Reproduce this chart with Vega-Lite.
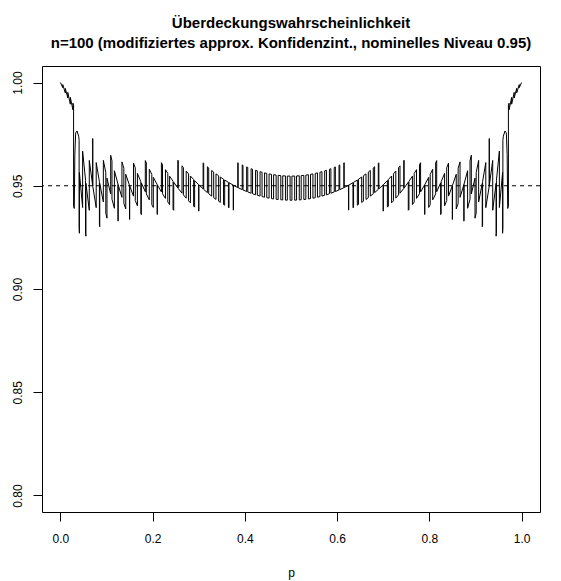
{
"$schema": "https://vega.github.io/schema/vega-lite/v6.json",
"width": 498, "height": 446,
"autosize": {"type": "none"},
"padding": {"left": 42, "top": 66, "right": 21, "bottom": 69},
"background": "white",
"config": {"view": {"stroke": "black", "strokeWidth": 1}, "font": "Liberation Sans"},
"title": {"text": ["Überdeckungswahrscheinlichkeit", "n=100 (modifiziertes approx. Konfidenzint., nominelles Niveau 0.95)"], "fontSize": 15, "fontWeight": "bold", "font": "Liberation Sans", "anchor": "middle", "frame": "group", "baseline": "alphabetic", "lineHeight": 20, "offset": 3, "color": "black"},
"data": {"values": [
{"p":0,"c":1.0},{"p":0.005,"c":0.9975},{"p":0.005,"c":0.999},{"p":0.0105,"c":0.995},{"p":0.0105,"c":0.9972},{"p":0.016,"c":0.9925},{"p":0.016,"c":0.9952},{"p":0.0215,"c":0.9895},{"p":0.0215,"c":0.9928},{"p":0.027,"c":0.9868},{"p":0.027,"c":0.99},{"p":0.0285,"c":0.989},{"p":0.0285,"c":0.94},{"p":0.03,"c":0.939},{"p":0.0312,"c":0.965},{"p":0.033,"c":0.9755},{"p":0.036,"c":0.9765},{"p":0.0395,"c":0.974},{"p":0.0405,"c":0.972},{"p":0.0405,"c":0.93},{"p":0.0411,"c":0.927},{"p":0.0411,"c":0.9564},
{"p":0.048072,"c":0.93947},{"p":0.048072,"c":0.96679},
{"p":0.054488,"c":0.95264},{"p":0.054488,"c":0.92689},
{"p":0.055229,"c":0.92558},{"p":0.055229,"c":0.95117},
{"p":0.062541,"c":0.93813},{"p":0.062541,"c":0.96226},
{"p":0.069993,"c":0.94997},{"p":0.069993,"c":0.97288},
{"p":0.070013,"c":0.97284},{"p":0.070013,"c":0.94994},
{"p":0.077571,"c":0.93938},{"p":0.077571,"c":0.96123},
{"p":0.084521,"c":0.95201},{"p":0.084521,"c":0.931},
{"p":0.085263,"c":0.93017},{"p":0.085263,"c":0.9511},
{"p":0.093059,"c":0.94219},{"p":0.093059,"c":0.9623},
{"p":0.098372,"c":0.95639},{"p":0.098372,"c":0.93676},
{"p":0.100952,"c":0.93429},{"p":0.100952,"c":0.95369},
{"p":0.108935,"c":0.946},{"p":0.108935,"c":0.96476},
{"p":0.111752,"c":0.96205},{"p":0.111752,"c":0.9435},
{"p":0.117001,"c":0.9391},{"p":0.117001,"c":0.95728},
{"p":0.124769,"c":0.95081},{"p":0.124769,"c":0.93313},
{"p":0.125147,"c":0.93285},{"p":0.125147,"c":0.95051},
{"p":0.133366,"c":0.94438},{"p":0.133366,"c":0.96157},
{"p":0.137496,"c":0.9585},{"p":0.137496,"c":0.94153},
{"p":0.141656,"c":0.93879},{"p":0.141656,"c":0.95555},
{"p":0.149982,"c":0.95006},{"p":0.149982,"c":0.93369},
{"p":0.150012,"c":0.93367},{"p":0.150012,"c":0.95004},
{"p":0.158431,"c":0.94498},{"p":0.158431,"c":0.96098},
{"p":0.162263,"c":0.95868},{"p":0.162263,"c":0.94283},
{"p":0.166912,"c":0.94032},{"p":0.166912,"c":0.95599},
{"p":0.174367,"c":0.95195},{"p":0.174367,"c":0.93654},
{"p":0.175451,"c":0.93602},{"p":0.175451,"c":0.95139},
{"p":0.184045,"c":0.94712},{"p":0.184045,"c":0.9622},
{"p":0.186314,"c":0.96106},{"p":0.186314,"c":0.94605},
{"p":0.192694,"c":0.94317},{"p":0.192694,"c":0.95798},
{"p":0.198122,"c":0.95551},{"p":0.198122,"c":0.94085},
{"p":0.201395,"c":0.9395},{"p":0.201395,"c":0.95407},
{"p":0.209803,"c":0.95056},{"p":0.209803,"c":0.93621},
{"p":0.210147,"c":0.93608},{"p":0.210147,"c":0.95042},
{"p":0.218947,"c":0.94703},{"p":0.218947,"c":0.96116},
{"p":0.221372,"c":0.96021},{"p":0.221372,"c":0.94613},
{"p":0.227795,"c":0.94386},{"p":0.227795,"c":0.95779},
{"p":0.232836,"c":0.95598},{"p":0.232836,"c":0.94215},
{"p":0.23669,"c":0.9409},{"p":0.23669,"c":0.95465},
{"p":0.244203,"c":0.95217},{"p":0.244203,"c":0.93856},
{"p":0.24563,"c":0.93813},{"p":0.24563,"c":0.95171},
{"p":0.254614,"c":0.94896},{"p":0.254614,"c":0.96238},
{"p":0.25548,"c":0.96211},{"p":0.25548,"c":0.94871},
{"p":0.263641,"c":0.94639},{"p":0.263641,"c":0.95966},
{"p":0.266674,"c":0.95879},{"p":0.266674,"c":0.94557},
{"p":0.272711,"c":0.94399},{"p":0.272711,"c":0.95712},
{"p":0.277789,"c":0.95577},{"p":0.277789,"c":0.94272},
{"p":0.281822,"c":0.94174},{"p":0.281822,"c":0.95473},
{"p":0.28883,"c":0.95302},{"p":0.28883,"c":0.94013},
{"p":0.290974,"c":0.93964},{"p":0.290974,"c":0.95251},
{"p":0.2998,"c":0.95051},{"p":0.2998,"c":0.93775},
{"p":0.300167,"c":0.93768},{"p":0.300167,"c":0.95043},
{"p":0.3094,"c":0.94848},{"p":0.3094,"c":0.96112},
{"p":0.310704,"c":0.96085},{"p":0.310704,"c":0.94822},
{"p":0.318672,"c":0.94667},{"p":0.318672,"c":0.95921},
{"p":0.321544,"c":0.95864},{"p":0.321544,"c":0.94613},
{"p":0.327982,"c":0.94498},{"p":0.327982,"c":0.95742},
{"p":0.332323,"c":0.95663},{"p":0.332323,"c":0.94423},
{"p":0.337331,"c":0.9434},{"p":0.337331,"c":0.95576},
{"p":0.343044,"c":0.95481},{"p":0.343044,"c":0.9425},
{"p":0.346719,"c":0.94194},{"p":0.346719,"c":0.95422},
{"p":0.35371,"c":0.95315},{"p":0.35371,"c":0.94093},
{"p":0.356144,"c":0.94059},{"p":0.356144,"c":0.95279},
{"p":0.364321,"c":0.95164},{"p":0.364321,"c":0.9395},
{"p":0.365607,"c":0.93934},{"p":0.365607,"c":0.95147},
{"p":0.37488,"c":0.95029},{"p":0.37488,"c":0.93821},
{"p":0.375107,"c":0.93819},{"p":0.375107,"c":0.95026},
{"p":0.384644,"c":0.94914},{"p":0.384644,"c":0.96116},
{"p":0.385389,"c":0.96107},{"p":0.385389,"c":0.94906},
{"p":0.394219,"c":0.94813},{"p":0.394219,"c":0.96009},
{"p":0.395849,"c":0.95992},{"p":0.395849,"c":0.94797},
{"p":0.40383,"c":0.94721},{"p":0.40383,"c":0.95912},
{"p":0.406261,"c":0.9589},{"p":0.406261,"c":0.947},
{"p":0.413478,"c":0.94639},{"p":0.413478,"c":0.95825},
{"p":0.416627,"c":0.95799},{"p":0.416627,"c":0.94614},
{"p":0.423163,"c":0.94565},{"p":0.423163,"c":0.95748},
{"p":0.426947,"c":0.95721},{"p":0.426947,"c":0.94539},
{"p":0.432886,"c":0.94501},{"p":0.432886,"c":0.95681},
{"p":0.437223,"c":0.95654},{"p":0.437223,"c":0.94476},
{"p":0.442646,"c":0.94446},{"p":0.442646,"c":0.95623},
{"p":0.447456,"c":0.95598},{"p":0.447456,"c":0.94422},
{"p":0.452443,"c":0.944},{"p":0.452443,"c":0.95574},
{"p":0.457647,"c":0.95552},{"p":0.457647,"c":0.94379},
{"p":0.462278,"c":0.94362},{"p":0.462278,"c":0.95534},
{"p":0.467796,"c":0.95516},{"p":0.467796,"c":0.94345},
{"p":0.472151,"c":0.94333},{"p":0.472151,"c":0.95504},
{"p":0.477904,"c":0.9549},{"p":0.477904,"c":0.94321},
{"p":0.482062,"c":0.94313},{"p":0.482062,"c":0.95482},
{"p":0.487971,"c":0.95475},{"p":0.487971,"c":0.94305},
{"p":0.492011,"c":0.94301},{"p":0.492011,"c":0.9547},
{"p":0.498,"c":0.95468},{"p":0.498,"c":0.94299},
{"p":0.502,"c":0.94299},{"p":0.502,"c":0.95468},
{"p":0.507989,"c":0.9547},{"p":0.507989,"c":0.94301},
{"p":0.512029,"c":0.94305},{"p":0.512029,"c":0.95475},
{"p":0.517938,"c":0.95482},{"p":0.517938,"c":0.94313},
{"p":0.522096,"c":0.94321},{"p":0.522096,"c":0.9549},
{"p":0.527849,"c":0.95504},{"p":0.527849,"c":0.94333},
{"p":0.532204,"c":0.94345},{"p":0.532204,"c":0.95516},
{"p":0.537722,"c":0.95534},{"p":0.537722,"c":0.94362},
{"p":0.542353,"c":0.94379},{"p":0.542353,"c":0.95552},
{"p":0.547557,"c":0.95574},{"p":0.547557,"c":0.944},
{"p":0.552544,"c":0.94422},{"p":0.552544,"c":0.95598},
{"p":0.557354,"c":0.95623},{"p":0.557354,"c":0.94446},
{"p":0.562777,"c":0.94476},{"p":0.562777,"c":0.95654},
{"p":0.567114,"c":0.95681},{"p":0.567114,"c":0.94501},
{"p":0.573053,"c":0.94539},{"p":0.573053,"c":0.95721},
{"p":0.576837,"c":0.95748},{"p":0.576837,"c":0.94565},
{"p":0.583373,"c":0.94614},{"p":0.583373,"c":0.95799},
{"p":0.586522,"c":0.95825},{"p":0.586522,"c":0.94639},
{"p":0.593739,"c":0.947},{"p":0.593739,"c":0.9589},
{"p":0.59617,"c":0.95912},{"p":0.59617,"c":0.94721},
{"p":0.604151,"c":0.94797},{"p":0.604151,"c":0.95992},
{"p":0.605781,"c":0.96009},{"p":0.605781,"c":0.94813},
{"p":0.614611,"c":0.94906},{"p":0.614611,"c":0.96107},
{"p":0.615356,"c":0.96116},{"p":0.615356,"c":0.94914},
{"p":0.624893,"c":0.95026},{"p":0.624893,"c":0.93819},
{"p":0.62512,"c":0.93821},{"p":0.62512,"c":0.95029},
{"p":0.634393,"c":0.95147},{"p":0.634393,"c":0.93934},
{"p":0.635679,"c":0.9395},{"p":0.635679,"c":0.95164},
{"p":0.643856,"c":0.95279},{"p":0.643856,"c":0.94059},
{"p":0.64629,"c":0.94093},{"p":0.64629,"c":0.95315},
{"p":0.653281,"c":0.95422},{"p":0.653281,"c":0.94194},
{"p":0.656956,"c":0.9425},{"p":0.656956,"c":0.95481},
{"p":0.662669,"c":0.95576},{"p":0.662669,"c":0.9434},
{"p":0.667677,"c":0.94423},{"p":0.667677,"c":0.95663},
{"p":0.672018,"c":0.95742},{"p":0.672018,"c":0.94498},
{"p":0.678456,"c":0.94613},{"p":0.678456,"c":0.95864},
{"p":0.681328,"c":0.95921},{"p":0.681328,"c":0.94667},
{"p":0.689296,"c":0.94822},{"p":0.689296,"c":0.96085},
{"p":0.6906,"c":0.96112},{"p":0.6906,"c":0.94848},
{"p":0.699833,"c":0.95043},{"p":0.699833,"c":0.93768},
{"p":0.7002,"c":0.93775},{"p":0.7002,"c":0.95051},
{"p":0.709026,"c":0.95251},{"p":0.709026,"c":0.93964},
{"p":0.71117,"c":0.94013},{"p":0.71117,"c":0.95302},
{"p":0.718178,"c":0.95473},{"p":0.718178,"c":0.94174},
{"p":0.722211,"c":0.94272},{"p":0.722211,"c":0.95577},
{"p":0.727289,"c":0.95712},{"p":0.727289,"c":0.94399},
{"p":0.733326,"c":0.94557},{"p":0.733326,"c":0.95879},
{"p":0.736359,"c":0.95966},{"p":0.736359,"c":0.94639},
{"p":0.74452,"c":0.94871},{"p":0.74452,"c":0.96211},
{"p":0.745386,"c":0.96238},{"p":0.745386,"c":0.94896},
{"p":0.75437,"c":0.95171},{"p":0.75437,"c":0.93813},
{"p":0.755797,"c":0.93856},{"p":0.755797,"c":0.95217},
{"p":0.76331,"c":0.95465},{"p":0.76331,"c":0.9409},
{"p":0.767164,"c":0.94215},{"p":0.767164,"c":0.95598},
{"p":0.772205,"c":0.95779},{"p":0.772205,"c":0.94386},
{"p":0.778628,"c":0.94613},{"p":0.778628,"c":0.96021},
{"p":0.781053,"c":0.96116},{"p":0.781053,"c":0.94703},
{"p":0.789853,"c":0.95042},{"p":0.789853,"c":0.93608},
{"p":0.790197,"c":0.93621},{"p":0.790197,"c":0.95056},
{"p":0.798605,"c":0.95407},{"p":0.798605,"c":0.9395},
{"p":0.801878,"c":0.94085},{"p":0.801878,"c":0.95551},
{"p":0.807306,"c":0.95798},{"p":0.807306,"c":0.94317},
{"p":0.813686,"c":0.94605},{"p":0.813686,"c":0.96106},
{"p":0.815955,"c":0.9622},{"p":0.815955,"c":0.94712},
{"p":0.824549,"c":0.95139},{"p":0.824549,"c":0.93602},
{"p":0.825633,"c":0.93654},{"p":0.825633,"c":0.95195},
{"p":0.833088,"c":0.95599},{"p":0.833088,"c":0.94032},
{"p":0.837737,"c":0.94283},{"p":0.837737,"c":0.95868},
{"p":0.841569,"c":0.96098},{"p":0.841569,"c":0.94498},
{"p":0.849988,"c":0.95004},{"p":0.849988,"c":0.93367},
{"p":0.850018,"c":0.93369},{"p":0.850018,"c":0.95006},
{"p":0.858344,"c":0.95555},{"p":0.858344,"c":0.93879},
{"p":0.862504,"c":0.94153},{"p":0.862504,"c":0.9585},
{"p":0.866634,"c":0.96157},{"p":0.866634,"c":0.94438},
{"p":0.874853,"c":0.95051},{"p":0.874853,"c":0.93285},
{"p":0.875231,"c":0.93313},{"p":0.875231,"c":0.95081},
{"p":0.882999,"c":0.95728},{"p":0.882999,"c":0.9391},
{"p":0.888248,"c":0.9435},{"p":0.888248,"c":0.96205},
{"p":0.891065,"c":0.96476},{"p":0.891065,"c":0.946},
{"p":0.899048,"c":0.95369},{"p":0.899048,"c":0.93429},
{"p":0.901628,"c":0.93676},{"p":0.901628,"c":0.95639},
{"p":0.906941,"c":0.9623},{"p":0.906941,"c":0.94219},
{"p":0.914737,"c":0.9511},{"p":0.914737,"c":0.93017},
{"p":0.915479,"c":0.931},{"p":0.915479,"c":0.95201},
{"p":0.922429,"c":0.96123},{"p":0.922429,"c":0.93938},
{"p":0.929987,"c":0.94994},{"p":0.929987,"c":0.97284},
{"p":0.930007,"c":0.97288},{"p":0.930007,"c":0.94997},
{"p":0.937459,"c":0.96226},{"p":0.937459,"c":0.93813},
{"p":0.944771,"c":0.95117},{"p":0.944771,"c":0.92558},
{"p":0.945512,"c":0.92689},{"p":0.945512,"c":0.95264},
{"p":0.951928,"c":0.96679},{"p":0.951928,"c":0.93947},
{"p":0.9589,"c":0.9564},{"p":0.9589,"c":0.927},{"p":0.9595,"c":0.93},{"p":0.9595,"c":0.972},{"p":0.9605,"c":0.974},{"p":0.964,"c":0.9765},{"p":0.967,"c":0.9755},{"p":0.9688,"c":0.965},{"p":0.97,"c":0.939},{"p":0.9715,"c":0.94},{"p":0.9715,"c":0.989},{"p":0.973,"c":0.99},{"p":0.973,"c":0.9868},{"p":0.9785,"c":0.9928},{"p":0.9785,"c":0.9895},{"p":0.984,"c":0.9952},{"p":0.984,"c":0.9925},{"p":0.9895,"c":0.9972},{"p":0.9895,"c":0.995},{"p":0.995,"c":0.999},{"p":0.995,"c":0.9975},{"p":1,"c":1.0}
]},
"layer": [
{"mark": {"type": "line", "color": "black", "strokeWidth": 1},
 "encoding": {
  "x": {"field": "p", "type": "quantitative", "scale": {"domain": [-0.04, 1.04], "nice": false, "zero": false},
        "axis": {"values": [0, 0.2, 0.4, 0.6, 0.8, 1], "format": ".1f", "domain": false, "grid": false, "tickSize": 9, "tickColor": "black", "labelColor": "black", "labelFontSize": 12, "labelFont": "Liberation Sans", "labelPadding": 12, "labelFlush": false, "labelOverlap": false, "title": "p", "titleFontSize": 12, "titleFont": "Liberation Sans", "titleFontWeight": "normal", "titleColor": "black", "titleY": 64, "titleBaseline": "alphabetic"}},
  "y": {"field": "c", "type": "quantitative", "scale": {"domain": [0.792, 1.008], "nice": false, "zero": false},
        "axis": {"values": [0.8, 0.85, 0.9, 0.95, 1.0], "format": ".2f", "domain": false, "grid": false, "tickSize": 9, "tickColor": "black", "labelColor": "black", "labelFontSize": 12, "labelFont": "Liberation Sans", "labelAngle": -90, "labelAlign": "center", "labelBaseline": "bottom", "labelPadding": 9, "labelFlush": false, "labelOverlap": false, "title": null}},
  "order": {"value": null}
 }},
{"data": {"values": [{}]},
 "mark": {"type": "rule", "color": "black", "strokeWidth": 1, "strokeDash": [4, 4]},
 "encoding": {"y": {"datum": 0.95}}}
]
}
